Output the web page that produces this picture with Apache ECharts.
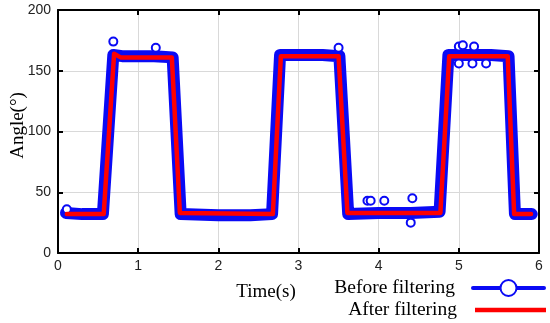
<!DOCTYPE html>
<html><head><meta charset="utf-8">
<script src="https://cdn.jsdelivr.net/npm/echarts@6/dist/echarts.min.js"></script>
<style>html,body{margin:0;padding:0;background:#fff}#c{width:550px;height:323px}</style>
</head><body><div id="c"></div>
<script>
// ---- data ----
const xTicks = [0, 1, 2, 3, 4, 5, 6];
const yTicks = [0, 50, 100, 150, 200];
const seriesNames = ['Before filtering', 'After filtering'];

// raw (before filtering) signal, time in s, angle in degrees
const beforeT = [0.10, 0.30, 0.50, 0.56, 0.69, 0.80, 1.00, 1.20, 1.43, 1.53, 2.00, 2.40, 2.67, 2.77, 3.00, 3.30, 3.51, 3.62, 4.00, 4.40, 4.76, 4.87, 5.10, 5.40, 5.62, 5.70, 5.91];
const beforeV = [33, 32, 32, 32, 163, 162, 162, 162, 161, 32, 31, 31, 32, 163, 163, 163, 162, 32, 33, 33, 34, 163, 163, 163, 162, 32, 32];

// isolated raw samples visible as separate circles
const outlierT = [0.69, 1.22, 3.50, 5.00, 5.05, 5.19, 5.00, 5.17, 5.34, 3.86, 3.90, 4.07, 4.42, 4.40, 0.11];
const outlierV = [174, 169, 169, 170, 171, 170, 156, 156, 156, 43, 43, 43, 45, 25, 36];

// filtered signal
const afterT = [0.11, 0.57, 0.70, 0.78, 1.42, 1.52, 2.68, 2.78, 3.50, 3.61, 4.77, 4.88, 5.61, 5.69, 5.90];
const afterV = [32, 32, 164, 161, 161, 33, 32, 162, 162, 33, 33, 162, 162, 32, 32];

// ---- build ----
const pairs = (t, v) => t.map((x, i) => [x, v[i]]);
const blue = '#0a0af5', red = '#ff0000';
const serif = 'Liberation Serif', sans = 'Liberation Sans';

const chart = echarts.init(document.getElementById('c'), null, {renderer: 'canvas'});
const axisLine = {show: true, onZero: false, lineStyle: {color: '#000', width: 2}};
const tick = {show: true, inside: true, length: 5, lineStyle: {color: '#000', width: 2}};
const legendText = {fontFamily: serif, fontSize: 19.5, color: '#000', padding: [0, 13, 0, 0]};

chart.setOption({
  animation: false,
  backgroundColor: '#fff',
  grid: {left: 58, right: 11, top: 10, bottom: 70, containLabel: false, outerBoundsMode: 'none'},
  xAxis: [{
    type: 'value', min: xTicks[0], max: xTicks[xTicks.length - 1], interval: 1,
    axisLine: axisLine, axisTick: tick,
    axisLabel: {margin: 6, fontFamily: sans, fontSize: 14, color: '#222'},
    splitLine: {show: true, lineStyle: {color: '#d9d9d9', width: 1}},
    name: 'Time(s)', nameLocation: 'middle', nameGap: 30, nameMoveOverlap: false,
    nameTextStyle: {fontFamily: serif, fontSize: 19, color: '#000', padding: [0, 65, 0, 0]}
  }, {
    type: 'value', position: 'top', min: xTicks[0], max: xTicks[xTicks.length - 1], interval: 1,
    axisLine: axisLine, axisTick: tick, axisLabel: {show: false}, splitLine: {show: false}
  }],
  yAxis: [{
    type: 'value', min: yTicks[0], max: yTicks[yTicks.length - 1], interval: 50,
    axisLine: axisLine, axisTick: tick,
    axisLabel: {margin: 7, fontFamily: sans, fontSize: 14, color: '#222'},
    splitLine: {show: true, lineStyle: {color: '#d9d9d9', width: 1}},
    name: 'Angle(°)', nameLocation: 'middle', nameGap: 30, nameMoveOverlap: false,
    nameTextStyle: {fontFamily: serif, fontSize: 19, color: '#000', padding: [0, 0, 0, 12]}
  }, {
    type: 'value', position: 'right', min: yTicks[0], max: yTicks[yTicks.length - 1], interval: 50,
    axisLine: axisLine, axisTick: tick, axisLabel: {show: false}, splitLine: {show: false}
  }],
  legend: [{
    data: [seriesNames[0]], right: 4, top: 278, padding: 0, orient: 'vertical', align: 'right',
    itemWidth: 71, itemHeight: 20, selectedMode: false,
    lineStyle: {width: 4}, itemStyle: {borderWidth: 3},
    textStyle: legendText
  }, {
    data: [{name: seriesNames[1], icon: 'rect'}], right: 4, top: 300, padding: 0, orient: 'vertical', align: 'right',
    itemWidth: 71, itemHeight: 4.5, selectedMode: false,
    textStyle: legendText
  }],
  series: [{
    name: seriesNames[0], type: 'line', data: pairs(beforeT, beforeV),
    symbol: 'emptyCircle', showSymbol: false, symbolSize: 8, z: 2,
    lineStyle: {color: blue, width: 12, cap: 'round', join: 'round'},
    itemStyle: {color: blue}
  }, {
    name: seriesNames[0], type: 'scatter', data: pairs(outlierT, outlierV),
    symbol: 'emptyCircle', symbolSize: 8, z: 3,
    itemStyle: {color: blue, borderColor: blue, borderWidth: 2, opacity: 1}
  }, {
    name: seriesNames[1], type: 'line', data: pairs(afterT, afterV),
    symbol: 'none', z: 4,
    lineStyle: {color: red, width: 4.5, cap: 'round', join: 'round'},
    itemStyle: {color: red}
  }]
});
</script>
</body></html>
